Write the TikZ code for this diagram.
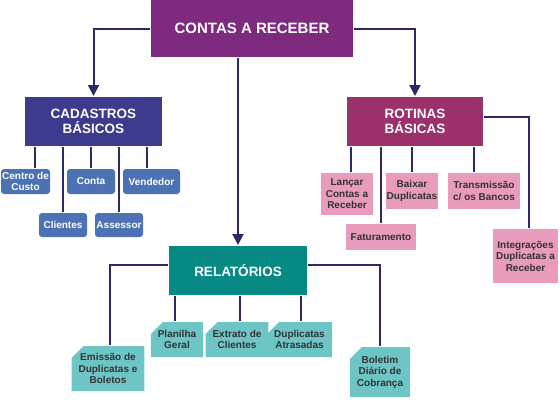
\documentclass[tikz,border=0pt]{standalone}
\usepackage{fontspec}
\setmainfont{Liberation Sans}
\usetikzlibrary{arrows.meta, positioning, shapes.misc}
\definecolor{cpurple}{HTML}{7E2A7E}
\definecolor{cindigo}{HTML}{3C3B8E}
\definecolor{cplum}{HTML}{9B306B}
\definecolor{cteal}{HTML}{078A84}
\definecolor{csteel}{HTML}{4C72B4}
\definecolor{cpink}{HTML}{E89BBB}
\definecolor{clight}{HTML}{6DC5C6}
\definecolor{cline}{HTML}{2C2A66}
\definecolor{ctext}{HTML}{333333}
\tikzset{
  every picture/.style={x=1pt, y=-1pt, font=\bfseries, line width=2pt},
  head/.style={fill=#1, text=white, align=center, inner sep=2pt, font=\fontsize{13.5}{15}\selectfont\bfseries},
  leaf/.style={fill=csteel, text=white, rounded corners=3pt, align=center, inner sep=1pt, minimum height=25pt, font=\fontsize{10}{11.5}\selectfont\bfseries},
  task/.style={fill=cpink, text=ctext, align=center, inner sep=1pt, font=\fontsize{10}{11.5}\selectfont\bfseries},
  report/.style={chamfered rectangle, chamfered rectangle corners=north west, chamfered rectangle xsep=6pt, chamfered rectangle ysep=6pt,
    fill=clight, text=ctext, align=center, inner sep=1pt, font=\fontsize{10}{11.5}\selectfont\bfseries},
  link/.style={draw=cline},
  arrow/.style={-{Triangle[length=11pt, width=11pt]}, draw=cline},
}
\begin{document}
\begin{tikzpicture}
  \useasboundingbox (0,0) rectangle (560,400);
  % heads
  \node[head=cpurple, minimum width=202pt, minimum height=57pt, font=\fontsize{15}{17}\selectfont\bfseries] (cr) at (252,28.5) {CONTAS A RECEBER};
  \node[head=cindigo, minimum width=137pt, minimum height=49pt] (cad) at (93.5,121.5) {CADASTROS\\BÁSICOS};
  \node[head=cplum, minimum width=136pt, minimum height=49pt] (rot) at (415,121.5) {ROTINAS\\BÁSICAS};
  \node[head=cteal, minimum width=138pt, minimum height=49pt] (rel) at (238,270.5) {RELATÓRIOS};
  \draw[arrow] (cr.west) -| (cad.north);
  \draw[arrow] (cr.east) -| (rot.north);
  \draw[arrow] (rel.north |- cr.south) -- (rel.north);
  % cadastros
  \node[leaf, minimum width=49pt] (centro) at (25.5,181.5) {Centro de\\Custo};
  \node[leaf, minimum width=48pt] (conta) at (91,181.5) {Conta};
  \node[leaf, minimum width=57pt] (vendedor) at (151.5,181.5) {Vendedor};
  \node[leaf, minimum width=48pt, minimum height=24pt] (clientes) at (63,225) {Clientes};
  \node[leaf, minimum width=48pt, minimum height=24pt] (assessor) at (119,225) {Assessor};
  \draw[link] ([xshift=9.5pt]centro.north) -- ([xshift=9.5pt]centro.north |- cad.south);
  \draw[link] (clientes.north) -- (clientes.north |- cad.south);
  \draw[link] (conta.north) -- (conta.north |- cad.south);
  \draw[link] (assessor.north) -- (assessor.north |- cad.south);
  \draw[link] ([xshift=-4.5pt]vendedor.north) -- ([xshift=-4.5pt]vendedor.north |- cad.south);
  % rotinas
  \node[task, minimum width=52pt, minimum height=42pt] (lancar) at (347,194) {Lançar\\Contas a\\Receber};
  \node[task, minimum width=52pt, minimum height=36pt] (baixar) at (412,191) {Baixar\\Duplicatas};
  \node[task, minimum width=72pt, minimum height=36pt] (transm) at (484,191) {Transmissão\\c/ os Bancos};
  \node[task, minimum width=70pt, minimum height=26pt] (fatur) at (381,237) {Faturamento};
  \node[task, minimum width=65pt, minimum height=54pt] (integr) at (525.5,256) {Integrações\\Duplicatas a\\Receber};
  \draw[link] ([xshift=4pt]lancar.north) -- ([xshift=4pt]lancar.north |- rot.south);
  \draw[link] (fatur.north) -- (fatur.north |- rot.south);
  \draw[link] (baixar.north) -- (baixar.north |- rot.south);
  \draw[link] ([xshift=-10pt]transm.north) -- ([xshift=-10pt]transm.north |- rot.south);
  \draw[link] ([yshift=4.5pt]rot.east) -| ([xshift=3.5pt]integr.north);
  % relatorios
  \node[report, minimum width=62pt, minimum height=45pt] (emissao) at (108,368.5) {Emissão de\\Duplicatas e\\Boletos};
  \node[report, minimum width=52pt, minimum height=35pt] (planilha) at (177,339.5) {Planilha\\Geral};
  \node[report, minimum width=50pt, minimum height=35pt] (extrato) at (237,339.5) {Extrato de\\Clientes};
  \node[report, minimum width=55pt, minimum height=35pt] (atrasadas) at (299.5,339.5) {Duplicatas\\Atrasadas};
  \node[report, minimum width=56pt, minimum height=50pt] (boletim) at (380,372) {Boletim\\Diário de\\Cobrança};
  \draw[link] ([yshift=5.5pt]rel.west) -| ([xshift=2pt]emissao.north);
  \draw[link] ([yshift=5.5pt]rel.east) -| (boletim.north);
  \draw[link] ([xshift=-2pt]planilha.north) -- ([xshift=-2pt]planilha.north |- rel.south);
  \draw[link] ([xshift=3pt]extrato.north) -- ([xshift=3pt]extrato.north |- rel.south);
  \draw[link] ([xshift=1.5pt]atrasadas.north) -- ([xshift=1.5pt]atrasadas.north |- rel.south);
\end{tikzpicture}
\end{document}
